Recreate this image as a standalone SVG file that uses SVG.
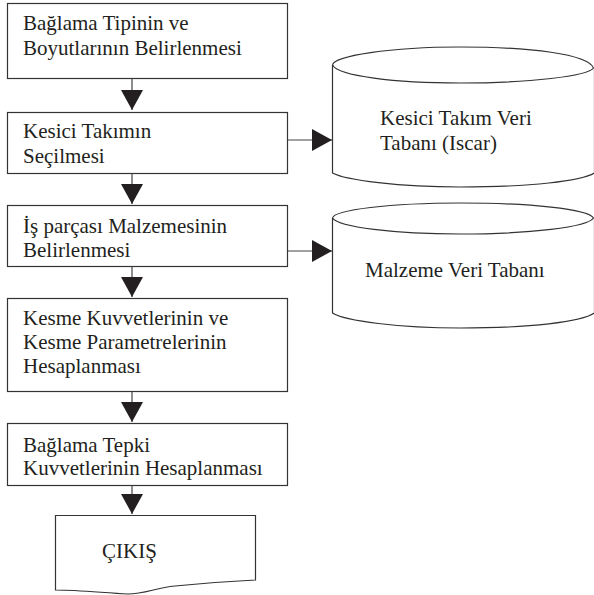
<svg xmlns="http://www.w3.org/2000/svg" width="594" height="595" viewBox="0 0 594 595">
<style>
  .box { fill: #fff; stroke: #333; stroke-width: 1.2; }
  .db { fill: none; stroke: #333; stroke-width: 1.2; }
  .lbl { font-family: "Liberation Serif", "Times New Roman", serif; font-size: 21px; fill: #231f20; }
  .con { stroke: #444; stroke-width: 1.2; fill: none; }
</style>
<defs>
  <marker id="ah" markerUnits="userSpaceOnUse" markerWidth="20" markerHeight="22" viewBox="0 0 20 22" refX="20" refY="11" orient="auto">
    <path d="M0,0 L20,11 L0,22 Z" fill="#231f20"/>
  </marker>
</defs>
<rect width="594" height="595" fill="#fff"/>

<g id="connectors">
  <line class="con" x1="132" y1="78" x2="132" y2="110" marker-end="url(#ah)"/>
  <line class="con" x1="132" y1="173" x2="132" y2="204" marker-end="url(#ah)"/>
  <line class="con" x1="132" y1="266" x2="132" y2="297" marker-end="url(#ah)"/>
  <line class="con" x1="132" y1="391" x2="132" y2="422" marker-end="url(#ah)"/>
  <line class="con" x1="132" y1="485" x2="132" y2="514" marker-end="url(#ah)"/>
  <line class="con" x1="287" y1="140" x2="332" y2="140" marker-end="url(#ah)"/>
  <line class="con" x1="287" y1="251" x2="332" y2="251" marker-end="url(#ah)"/>
</g>

<g id="n1">
  <rect class="box" x="7.5" y="3.5" width="280" height="75"/>
  <text class="lbl" x="23" y="30">Bağlama Tipinin ve</text>
  <text class="lbl" x="23" y="55">Boyutlarının Belirlenmesi</text>
</g>
<g id="n2">
  <rect class="box" x="7.5" y="112.5" width="280" height="61"/>
  <text class="lbl" x="23" y="138">Kesici Takımın</text>
  <text class="lbl" x="23" y="163">Seçilmesi</text>
</g>
<g id="n3">
  <rect class="box" x="7.5" y="205.5" width="280" height="61"/>
  <text class="lbl" x="23" y="233">İş parçası Malzemesinin</text>
  <text class="lbl" x="23" y="257">Belirlenmesi</text>
</g>
<g id="n4">
  <rect class="box" x="7.5" y="298.5" width="280" height="93"/>
  <text class="lbl" x="23" y="325">Kesme Kuvvetlerinin ve</text>
  <text class="lbl" x="23" y="349">Kesme Parametrelerinin</text>
  <text class="lbl" x="23" y="373">Hesaplanması</text>
</g>
<g id="n5">
  <rect class="box" x="7.5" y="423.5" width="280" height="62"/>
  <text class="lbl" x="23" y="452">Bağlama Tepki</text>
  <text class="lbl" x="23" y="475">Kuvvetlerinin Hesaplanması</text>
</g>
<g id="out">
  <path class="box" d="M55.5,515.5 H255.5 V580 C235,581 205,583 175,586 C155,588 145,594 128,594 C105,593 80,590 55.5,590 Z"/>
  <text class="lbl" x="102" y="558">ÇIKIŞ</text>
</g>

<g id="db1">
  <path class="db" d="M332.5,65 C334,56 390,47 460,47 C530,47 588,54 593.5,68 C588,76 530,83 460,83 C395,83 338,76 332.5,65 Z"/>
  <path class="db" d="M332.5,65 V173 C345,180 400,187 460,187 C530,187 582,181 594.5,173 M594.5,68 V173"/>
  <text class="lbl" x="380" y="125">Kesici Takım Veri</text>
  <text class="lbl" x="380" y="150">Tabanı (Iscar)</text>
</g>
<g id="db2">
  <path class="db" d="M332.5,218 C334,210 390,203 460,203 C530,203 588,209 593.5,218 C588,227 530,234 460,234 C395,234 338,227 332.5,218 Z"/>
  <path class="db" d="M332.5,218 V313 C345,321 400,328 460,328 C530,328 582,322 594.5,313 M594.5,218 V313"/>
  <text class="lbl" x="365" y="277">Malzeme Veri Tabanı</text>
</g>
</svg>
